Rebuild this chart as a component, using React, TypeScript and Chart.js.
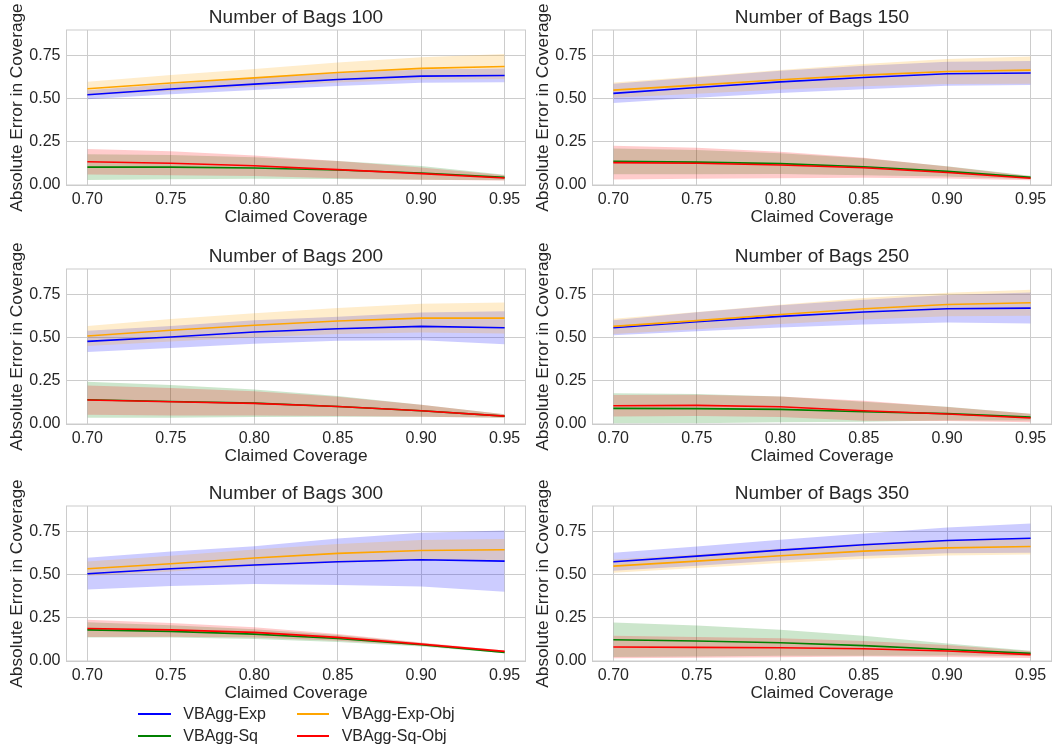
import React, { useEffect, useRef } from "react";
import { Chart, registerables } from "chart.js";

Chart.register(...registerables);

// ---------- data ----------
const CLAIMED = [0.7, 0.75, 0.8, 0.85, 0.9, 0.95];
const X_TICKS = [0.7, 0.75, 0.8, 0.85, 0.9, 0.95];
const Y_TICKS = [0, 0.25, 0.5, 0.75];
const BAGS = [100, 150, 200, 250, 300, 350];

const SERIES_NAMES = ["VBAgg-Exp", "VBAgg-Exp-Obj", "VBAgg-Sq", "VBAgg-Sq-Obj"];
const SERIES_COLORS = ["#0000ff", "#ffa500", "#008000", "#ff0000"];
const SERIES_FILLS = [
  "rgba(0,0,255,0.2)",
  "rgba(255,165,0,0.2)",
  "rgba(0,128,0,0.2)",
  "rgba(255,0,0,0.2)",
];

// one row per panel (bags 100..350), one value per claimed coverage
const EXP_MEAN = [
  [0.524, 0.557, 0.586, 0.613, 0.632, 0.636],
  [0.532, 0.566, 0.599, 0.624, 0.646, 0.65],
  [0.48, 0.505, 0.534, 0.553, 0.567, 0.559],
  [0.559, 0.594, 0.625, 0.65, 0.669, 0.673],
  [0.507, 0.536, 0.557, 0.576, 0.588, 0.58],
  [0.576, 0.609, 0.644, 0.675, 0.7, 0.713],
];
const EXP_SD = [
  [0.026, 0.03, 0.035, 0.038, 0.038, 0.04],
  [0.056, 0.06, 0.065, 0.068, 0.07, 0.07],
  [0.062, 0.064, 0.068, 0.07, 0.08, 0.096],
  [0.044, 0.055, 0.065, 0.072, 0.08, 0.09],
  [0.092, 0.1, 0.11, 0.135, 0.156, 0.178],
  [0.052, 0.056, 0.06, 0.065, 0.075, 0.085],
];
const EXP_OBJ_MEAN = [
  [0.559, 0.592, 0.622, 0.653, 0.677, 0.688],
  [0.551, 0.58, 0.611, 0.638, 0.659, 0.667],
  [0.511, 0.544, 0.573, 0.598, 0.615, 0.615],
  [0.567, 0.6, 0.636, 0.669, 0.694, 0.704],
  [0.536, 0.565, 0.598, 0.625, 0.642, 0.646],
  [0.551, 0.58, 0.611, 0.638, 0.657, 0.665],
];
const EXP_OBJ_SD = [
  [0.04, 0.046, 0.052, 0.058, 0.065, 0.072],
  [0.044, 0.05, 0.057, 0.064, 0.072, 0.079],
  [0.058, 0.065, 0.07, 0.076, 0.083, 0.09],
  [0.044, 0.05, 0.056, 0.062, 0.068, 0.075],
  [0.042, 0.046, 0.05, 0.055, 0.06, 0.063],
  [0.038, 0.04, 0.042, 0.044, 0.045, 0.046],
];
const SQ_MEAN = [
  [0.104, 0.104, 0.099, 0.087, 0.07, 0.044],
  [0.137, 0.133, 0.124, 0.106, 0.079, 0.044],
  [0.141, 0.131, 0.121, 0.102, 0.077, 0.046],
  [0.091, 0.089, 0.085, 0.071, 0.06, 0.04],
  [0.181, 0.172, 0.156, 0.131, 0.094, 0.05],
  [0.123, 0.116, 0.106, 0.089, 0.067, 0.044],
];
const SQ_SD = [
  [0.075, 0.07, 0.062, 0.052, 0.04, 0.016],
  [0.075, 0.07, 0.06, 0.05, 0.03, 0.01],
  [0.105, 0.095, 0.08, 0.06, 0.035, 0.01],
  [0.088, 0.085, 0.075, 0.058, 0.04, 0.02],
  [0.044, 0.035, 0.028, 0.02, 0.01, 0.005],
  [0.1, 0.09, 0.075, 0.058, 0.035, 0.015],
];
const SQ_OBJ_MEAN = [
  [0.135, 0.126, 0.112, 0.089, 0.066, 0.041],
  [0.13, 0.126, 0.116, 0.1, 0.073, 0.039],
  [0.139, 0.129, 0.12, 0.102, 0.077, 0.046],
  [0.106, 0.108, 0.1, 0.077, 0.058, 0.035],
  [0.189, 0.181, 0.166, 0.137, 0.098, 0.056],
  [0.081, 0.079, 0.077, 0.071, 0.058, 0.037],
];
const SQ_OBJ_SD = [
  [0.074, 0.07, 0.06, 0.05, 0.035, 0.015],
  [0.098, 0.09, 0.077, 0.058, 0.035, 0.012],
  [0.085, 0.08, 0.07, 0.056, 0.035, 0.01],
  [0.062, 0.062, 0.06, 0.058, 0.04, 0.025],
  [0.05, 0.04, 0.03, 0.02, 0.01, 0.005],
  [0.065, 0.06, 0.055, 0.045, 0.035, 0.02],
];

const MEANS = [EXP_MEAN, EXP_OBJ_MEAN, SQ_MEAN, SQ_OBJ_MEAN];
const SDS = [EXP_SD, EXP_OBJ_SD, SQ_SD, SQ_OBJ_SD];

// ---------- styling ----------
const FONT = "'Liberation Sans', Arial, Helvetica, sans-serif";
const TEXT = "#262626";
const GRID = "#cccccc";
const CANVAS_W = 526;
const CANVAS_H = 229;
const ROW_TOPS = [0, 239, 476];

const frame = {
  id: "frame",
  beforeDatasetsDraw(chart: any) {
    const { ctx, chartArea: a } = chart;
    ctx.save();
    ctx.strokeStyle = GRID;
    ctx.lineWidth = 1;
    ctx.strokeRect(a.left, a.top, a.right - a.left, a.bottom - a.top);
    ctx.restore();
  },
};

function Panel({ idx }: { idx: number }) {
  const ref = useRef<HTMLCanvasElement | null>(null);
  useEffect(() => {
    if (!ref.current) return;
    const datasets: any[] = [];
    for (let s = 0; s < 4; s++) {
      const mean = MEANS[s][idx];
      const sd = SDS[s][idx];
      datasets.push({
        label: SERIES_NAMES[s] + " lo",
        data: CLAIMED.map((x, i) => ({ x, y: mean[i] - sd[i] })),
        borderWidth: 0,
        borderColor: "rgba(0,0,0,0)",
        pointRadius: 0,
        fill: false,
        order: 20 - s,
      });
      datasets.push({
        label: SERIES_NAMES[s] + " hi",
        data: CLAIMED.map((x, i) => ({ x, y: mean[i] + sd[i] })),
        borderWidth: 0,
        borderColor: "rgba(0,0,0,0)",
        pointRadius: 0,
        fill: "-1",
        backgroundColor: SERIES_FILLS[s],
        order: 20 - s,
      });
      datasets.push({
        label: SERIES_NAMES[s],
        data: CLAIMED.map((x, i) => ({ x, y: mean[i] })),
        borderColor: SERIES_COLORS[s],
        borderWidth: 1.6,
        pointRadius: 0,
        fill: false,
        tension: 0,
        order: 10 - s,
      });
    }
    const chart = new Chart(ref.current, {
      type: "line",
      data: { datasets },
      plugins: [frame],
      options: {
        animation: false,
        responsive: false,
        devicePixelRatio: 1,
        layout: { padding: { left: 0, right: 0.5, top: 0, bottom: 0 } },
        plugins: {
          legend: { display: false },
          tooltip: { enabled: false },
          filler: { drawTime: "beforeDatasetsDraw", propagate: false },
          title: {
            display: true,
            text: "Number of Bags " + BAGS[idx],
            color: TEXT,
            fullSize: false,
            font: { family: FONT, size: 19, weight: "normal", lineHeight: 1.2 },
            padding: { top: 6.6, bottom: 0.6 },
          },
        },
        scales: {
          x: {
            type: "linear",
            min: 0.6875,
            max: 0.9625,
            afterBuildTicks: (sc: any) => {
              sc.ticks = X_TICKS.map((v) => ({ value: v }));
            },
            afterFit: (sc: any) => {
              sc.height = 44;
            },
            grid: { color: GRID, lineWidth: 1, drawTicks: false },
            border: { display: true, color: GRID },
            ticks: {
              color: TEXT,
              padding: 5,
              maxRotation: 0,
              font: { family: FONT, size: 16 },
              callback: (v: any) => Number(v).toFixed(2),
            },
            title: {
              display: true,
              text: "Claimed Coverage",
              color: TEXT,
              font: { family: FONT, size: 17.3, lineHeight: 1.2 },
              padding: { top: 0, bottom: 1.8 },
            },
          },
          y: {
            type: "linear",
            min: 0,
            max: 0.9,
            afterBuildTicks: (sc: any) => {
              sc.ticks = Y_TICKS.map((v) => ({ value: v }));
            },
            afterFit: (sc: any) => {
              sc.width = 66.5;
            },
            grid: { color: GRID, lineWidth: 1, drawTicks: false },
            border: { display: true, color: GRID },
            ticks: {
              color: TEXT,
              padding: 6,
              font: { family: FONT, size: 16 },
              callback: (v: any) => Number(v).toFixed(2),
            },
            title: {
              display: true,
              text: "Absolute Error in Coverage",
              color: TEXT,
              font: { family: FONT, size: 17.3, lineHeight: 1.2 },
              padding: { top: 6.6, bottom: 0 },
            },
          },
        },
      } as any,
    });
    return () => chart.destroy();
  }, [idx]);
  const col = idx % 2;
  const row = Math.floor(idx / 2);
  return (
    <canvas
      ref={ref}
      width={CANVAS_W}
      height={CANVAS_H}
      style={{ position: "absolute", left: col * 526, top: ROW_TOPS[row], width: CANVAS_W, height: CANVAS_H }}
    />
  );
}

const LEGEND_POS = [
  { line: 138.3, text: 183.3, y: 714 },
  { line: 296.7, text: 341.7, y: 714 },
  { line: 138.3, text: 183.3, y: 736 },
  { line: 296.7, text: 341.7, y: 736 },
];
const LEGEND_ORDER = [0, 1, 2, 3];

export default function App() {
  return (
    <div
      style={{
        position: "absolute",
        left: 0,
        top: 0,
        width: 1052,
        height: 750,
        background: "#ffffff",
        overflow: "hidden",
        fontFamily: FONT,
      }}
    >
      {BAGS.map((_, i) => (
        <Panel key={i} idx={i} />
      ))}
      {LEGEND_ORDER.map((s, k) => {
        const p = LEGEND_POS[k];
        return (
          <React.Fragment key={s}>
            <div
              style={{
                position: "absolute",
                left: p.line,
                top: p.y - 1,
                width: 32.4,
                height: 2,
                background: SERIES_COLORS[s],
              }}
            />
            <div
              style={{
                position: "absolute",
                left: p.text,
                top: p.y - 10,
                height: 20,
                lineHeight: "20px",
                fontSize: 16,
                color: TEXT,
                whiteSpace: "nowrap",
              }}
            >
              {SERIES_NAMES[s]}
            </div>
          </React.Fragment>
        );
      })}
    </div>
  );
}
